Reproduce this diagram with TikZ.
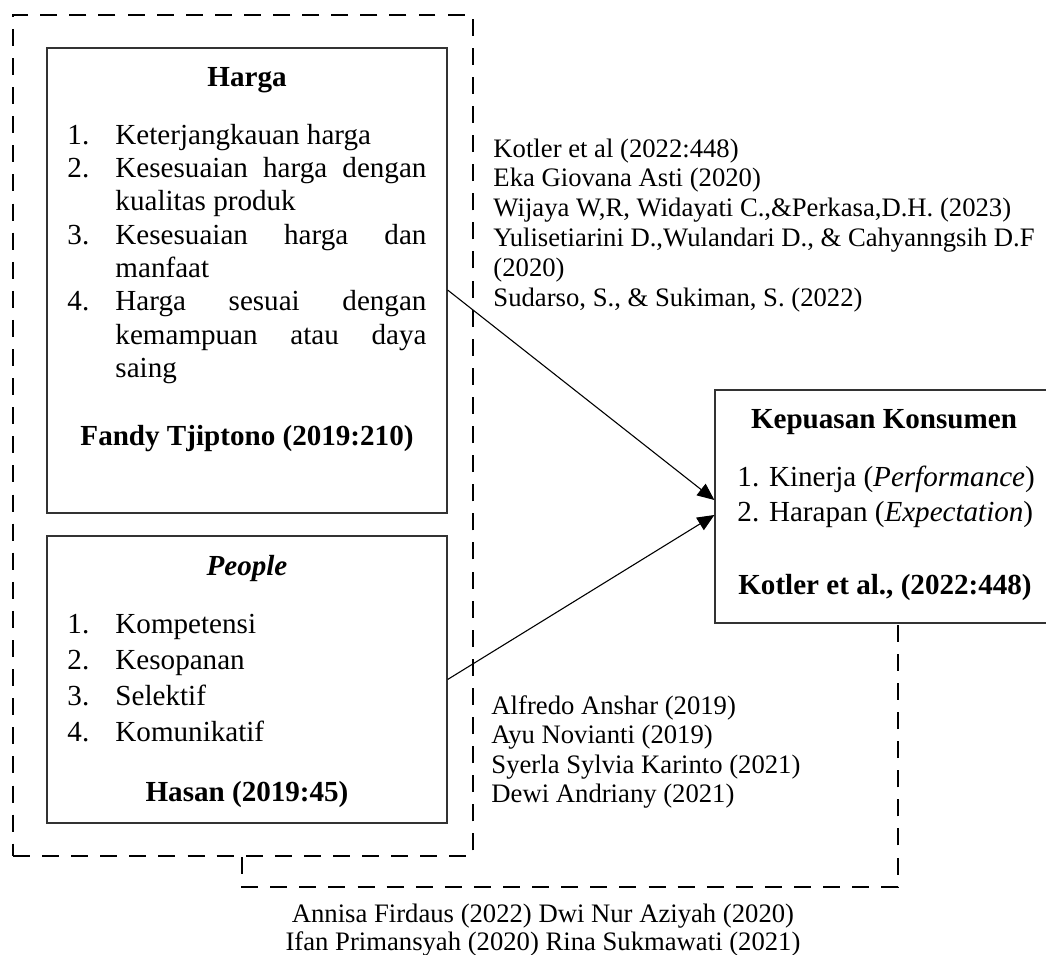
\documentclass[tikz,border=0pt]{standalone}
\usepackage{fontspec}
\setmainfont{Liberation Serif}
\usepackage{tikz}
\usetikzlibrary{arrows.meta, positioning, calc, fit}

\newlength\pxu
\setlength\pxu{0.4124pt}
\newlength\hargaw
\setlength\hargaw{311\pxu}
\newcommand\itm[2]{\makebox[48\pxu][l]{#1}#2}
\newcommand\fbig{\fontsize{12}{13.77}\selectfont}
\newcommand\fsmall{\fontsize{11}{12.37}\selectfont}

\begin{document}
\begin{tikzpicture}[
    x=\pxu, y=-\pxu,
    every node/.style={inner sep=0pt},
    varbox/.style={draw=black!80, line width=0.5pt},
    dashbox/.style={draw=black, line width=0.9pt, dash pattern=on 7pt off 5pt},
    dashlink/.style={black, line width=0.9pt, dash pattern=on 7pt off 5pt},
    arrowto/.style={-{Triangle[length=7pt, width=6pt]}, line width=0.45pt}
  ]
    \useasboundingbox (0,0) rectangle (1046,955);

    % Group of the independent variables
    \node[dashbox, fit={(13,15) (473,856)}] (grp) {};

    % Harga
    \node[varbox, fit={(47,48) (447,513)}] (harga) {};
    \node[anchor=base, font=\fbig\bfseries] (hargatitle) at (247,86) {Harga};
    \node[anchor=base west] (hargalist) at (67,144) {\parbox[t]{359\pxu}{\fbig
      \itm{1.}{Keterjangkauan harga}\\
      \itm{2.}{\makebox[\hargaw][s]{Kesesuaian harga dengan}}\\
      \itm{}{kualitas produk}\\
      \itm{3.}{\makebox[\hargaw][s]{Kesesuaian harga dan}}\\
      \itm{}{manfaat}\\
      \itm{4.}{\makebox[\hargaw][s]{Harga sesuai dengan}}\\
      \itm{}{\makebox[\hargaw][s]{kemampuan atau daya}}\\
      \itm{}{saing}}};
    \node[anchor=base, font=\fbig\bfseries] (hargasrc) at (247,445) {Fandy Tjiptono (2019:210)};

    % People
    \node[varbox, fit={(47,536) (447,823)}] (people) {};
    \node[anchor=base, font=\fbig\bfseries\itshape] (peopletitle) at (247,575) {People};
    \node[anchor=base west] (peoplelist) at (67,633) {\parbox[t]{359\pxu}{\fontsize{12}{14.85}\selectfont
      \itm{1.}{Kompetensi}\\
      \itm{2.}{Kesopanan}\\
      \itm{3.}{Selektif}\\
      \itm{4.}{Komunikatif}}};
    \node[anchor=base, font=\fbig\bfseries] (peoplesrc) at (247,801) {Hasan (2019:45)};

    % Kepuasan Konsumen
    \node[varbox, fit={(715,390) (1053,623)}] (kep) {};
    \node[anchor=base, font=\fbig\bfseries] (keptitle) at (884,428) {Kepuasan Konsumen};
    \node[anchor=base west, font=\fbig] (kep1) at (737,486) {1. Kinerja (\textit{Performance})};
    \node[anchor=base west, font=\fbig] (kep2) at (737,521) {2. Harapan (\textit{Expectation})};
    \node[anchor=base, font=\fbig\bfseries] (kepsrc) at (885,594) {Kotler et al., (2022:448)};

    % References
    \node[anchor=base west] (refharga) at (493,157) {\parbox[t]{560\pxu}{\fsmall
      Kotler et al (2022:448)\\
      Eka Giovana Asti (2020)\\
      Wijaya W,R, Widayati C.,\&Perkasa,D.H. (2023)\\
      Yulisetiarini D.,Wulandari D., \& Cahyanngsih D.F\\
      (2020)\\
      Sudarso, S., \& Sukiman, S. (2022)}};
    \node[anchor=base west] (refpeople) at (491,714) {\parbox[t]{400\pxu}{\fontsize{11}{12.17}\selectfont
      Alfredo Anshar (2019)\\
      Ayu Novianti (2019)\\
      Syerla Sylvia Karinto (2021)\\
      Dewi Andriany (2021)}};
    \node[anchor=base] (refgroup) at (543,922) {\parbox[t]{620\pxu}{\centering\fontsize{11}{11.55}\selectfont
      Annisa Firdaus (2022) Dwi Nur Aziyah (2020)\\
      Ifan Primansyah (2020) Rina Sukmawati (2021)}};

    % Connectors
    \coordinate (tapL) at (242,887);
    \coordinate (tapR) at (898,887);
    \draw[dashlink] (tapL |- grp.south) -- (tapL) -- (tapR) -- (tapR |- kep.south);
    \draw[arrowto] ($(harga.east)+(0,9.5)$) -- ($(kep.west)+(0,-6.5)$);
    \draw[arrowto] (people.east) -- ($(kep.west)+(0,8.5)$);

\end{tikzpicture}
\end{document}
